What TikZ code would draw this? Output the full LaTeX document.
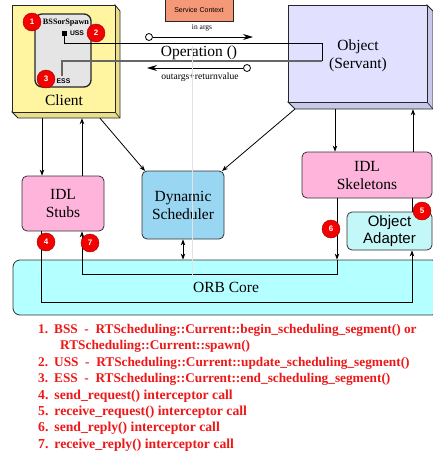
\documentclass[tikz,border=0pt]{standalone}
\usepackage{fontspec}
\setmainfont{Liberation Serif}
\newfontfamily\sansf{Liberation Sans}
\usetikzlibrary{arrows.meta}
\definecolor{clientF}{RGB}{255,245,160}
\definecolor{clientS}{RGB}{232,222,140}
\definecolor{objF}{RGB}{225,225,255}
\definecolor{objS}{RGB}{200,200,232}
\definecolor{pinkF}{RGB}{255,180,220}
\definecolor{schedF}{RGB}{153,214,242}
\definecolor{oaF}{RGB}{196,247,247}
\definecolor{orbF}{RGB}{180,255,255}
\definecolor{svcF}{RGB}{245,152,120}
\definecolor{segF}{RGB}{229,229,229}
\definecolor{legred}{RGB}{238,24,24}
\definecolor{numred}{RGB}{245,0,0}
\tikzset{
  box/.style={draw=black!80, line width=0.8pt, rounded corners=5pt, inner sep=0pt, align=center,
    font=\fontsize{15.5}{18}\selectfont},
  num/.style={circle, fill=numred, draw=red!60!black, line width=0.4pt, minimum size=18pt, inner sep=0pt,
    text=white, font=\sansf\bfseries\fontsize{8}{8}\selectfont},
  arr/.style={line width=0.8pt, -{Stealth[length=6pt,width=4.5pt]}},
  bigarr/.style={line width=0.9pt, -{Stealth[length=10pt,width=6pt]}},
  ln/.style={line width=0.8pt},
  opencirc/.style={circle, draw=black, fill=white, line width=0.8pt, minimum size=7pt, inner sep=0pt},
  legend/.style={anchor=west, inner sep=0pt, text=legred, font=\bfseries\fontsize{13.3}{15}\selectfont},
  legendb/.style={legend, font=\bfseries\fontsize{13.7}{15}\selectfont},
  plain/.style={inner sep=0pt, align=center},
}
\newcommand{\numgap}{\hspace{6pt}}
\begin{document}
\begin{tikzpicture}[x=1pt, y=-1pt]
\useasboundingbox (0,0) rectangle (433,456);
\fill[white] (0,0) rectangle (433,456);

% ---------- Client (3D box) ----------
\node[draw=none, minimum width=108pt, minimum height=113pt, inner sep=0pt] (client) at (66,61.5) {};
\filldraw[fill=clientS, draw=black!85, line width=0.8pt]
  (115,5) -- (120,11) -- (120,118) -- (18,118) -- (12,112) -- (115,112) -- cycle;
\draw[black!85, line width=0.6pt] (115,112) -- (120,118);
\node[draw=black!85, fill=clientF, line width=0.8pt, minimum width=103pt, minimum height=107pt, inner sep=0pt] (clientF) at (63.5,58.5) {};
\node[plain, font=\fontsize{15.5}{18}\selectfont] (clientlbl) at (64,100) {Client};

% inner segment box
\node[draw=black!85, fill=segF, line width=1.3pt, rounded corners=7pt, minimum width=56pt, minimum height=73pt, inner sep=0pt] (seg) at (63,50.5) {};
\node[plain, font=\bfseries\fontsize{8.2}{9}\selectfont] (bss) at (66,23) {BSSorSpawn};
\node[plain, font=\sansf\bfseries\fontsize{6.8}{8}\selectfont] (uss) at (77,33.5) {USS};
\node[plain, font=\sansf\bfseries\fontsize{6.8}{8}\selectfont] (ess) at (63.5,81) {ESS};
\node[fill=black, minimum size=5pt, inner sep=0pt] (sq) at (64,33) {};

% ---------- Object (3D box) ----------
\node[draw=none, minimum width=145pt, minimum height=104pt, inner sep=0pt] (object) at (360.5,57) {};
\filldraw[fill=objS, draw=black!85, line width=0.8pt]
  (427,5) -- (433,11) -- (433,109) -- (295,109) -- (288,102) -- (427,102) -- cycle;
\draw[black!85, line width=0.6pt] (427,102) -- (433,109);
\node[draw=black!85, fill=objF, line width=0.8pt, minimum width=139pt, minimum height=97pt, inner sep=0pt] (objF) at (357.5,53.5) {};
\node[plain, font=\fontsize{15.5}{18}\selectfont] (objlbl) at (358,56) {Object\\(Servant)};

% ---------- Service context ----------
\node[draw=black!85, fill=svcF, line width=0.8pt, minimum width=68pt, minimum height=23pt, inner sep=0pt,
  font=\sansf\fontsize{7}{8}\selectfont] (svc) at (199,9.5) {Service Context};
\node[plain, font=\fontsize{7.5}{9}\selectfont] (inargs) at (202,28) {in args};
\node[plain, font=\fontsize{9.6}{11}\selectfont] (outargs) at (200,77.5) {outargs+returnvalue};

% ---------- Middle boxes ----------
\node[box, fill=pinkF, minimum width=82pt, minimum height=55pt] (stubs) at (63,203.5) {IDL\\Stubs};
\node[box, fill=schedF, minimum width=82pt, minimum height=68pt] (sched) at (183,205) {Dynamic\\Scheduler};
\node[box, fill=pinkF, minimum width=130pt, minimum height=46pt] (skel) at (367,175) {IDL\\Skeletons};
\node[box, fill=oaF, minimum width=85pt, minimum height=38pt, font=\sansf\fontsize{15}{17}\selectfont] (oa) at (389.5,231) {Object\\Adapter};
\node[box, fill=orbF, rounded corners=7pt, minimum width=426pt, minimum height=55pt] (orb) at (226,287.5) {ORB Core};

% ---------- helper coordinates ----------
\coordinate (x41) at (41,0);
\coordinate (x42) at (42,0);
\coordinate (x82) at (82,0);
\coordinate (x100) at (100,0);
\coordinate (x183) at (183,0);
\coordinate (x335) at (335,0);
\coordinate (x337) at (337,0);
\coordinate (x412) at (412,0);
\coordinate (x413) at (413,0);
\coordinate (y274) at (0,274);
\coordinate (y302) at (0,302);
\coordinate (u1) at (322,43);
\coordinate (u2) at (322,61);
\coordinate (essend) at (62,76);
\coordinate (schTL) at (145,171);
\coordinate (schTR) at (222,171);
\coordinate (objBL) at (295,109);
\coordinate (iaend) at (253,37);
\coordinate (oaend) at (147,68);

% ---------- Operation loop ----------
\draw[ln, black] (sq.south) |- (u1) -- (u2);
\draw[line width=1.4pt, black!60] (u2) -| (essend);
\node[plain, font=\fontsize{15.5}{18}\selectfont] (op) at (199,53) {Operation ()};
\node[opencirc] (oc1) at (149,37) {};
\node[opencirc] (oc2) at (247,68) {};
\draw[bigarr] (oc1.east) -- (iaend);
\draw[bigarr] (oc2.west) -- (oaend);

% ---------- connectors ----------
\draw[arr] (client.south -| x42) -- (stubs.north -| x42);
\draw[arr] (stubs.north -| x82) -- (client.south -| x82);
\draw[arr] (client.south -| x100) -- (schTL);
\draw[arr] (objBL) -- (schTR);
\draw[arr] (object.south -| x335) -- (skel.north -| x335);
\draw[arr] (skel.north -| x413) -- (object.south -| x413);
\draw[line width=0.8pt, {Stealth[length=6pt,width=4.5pt]}-{Stealth[length=6pt,width=4.5pt]}] (sched.south -| x183) -- (orb.north -| x183);
\draw[arr] (stubs.south -| x41) -- (x41 |- y302) -- (x412 |- y302) -- (oa.south -| x412);
\draw[arr] (skel.south -| x337) -- (orb.north -| x337);
\draw[arr] (orb.north -| x337) -- (x337 |- y274) -- (x82 |- y274) -- (stubs.south -| x82);
\draw[ln] (skel.south -| x412) -- (oa.north -| x412);

% faint vertical trace
\draw[black!11, line width=0.8pt] (192,46) -- (192,277);

% ---------- numbered markers ----------
\node[num] (n1) at (32,22) {1};
\node[num] (n2) at (96,33) {2};
\node[num] (n3) at (46,79) {3};
\node[num] (n4) at (46,242) {4};
\node[num] (n5) at (422,211) {5};
\node[num] (n6) at (331,229) {6};
\node[num] (n7) at (90,243) {7};

% ---------- legend ----------
\node[legend] (l1) at (38,330) {1.\numgap BSS\ \ -\ \ RTScheduling::Current::begin\_scheduling\_segment()\ or};
\node[legend] (l1b) at (60,346.5) {RTScheduling::Current::spawn()};
\node[legend] (l2) at (38,363) {2.\numgap USS\ \ -\ \ RTScheduling::Current::update\_scheduling\_segment()};
\node[legend] (l3) at (38,379.5) {3.\numgap ESS\ \ -\ \ RTScheduling::Current::end\_scheduling\_segment()};
\node[legendb] (l4) at (38,396) {4.\numgap send\_request()\ interceptor\ call};
\node[legendb] (l5) at (38,412) {5.\numgap receive\_request()\ interceptor\ call};
\node[legendb] (l6) at (38,428.5) {6.\numgap send\_reply()\ interceptor\ call};
\node[legendb] (l7) at (38,445) {7.\numgap receive\_reply()\ interceptor\ call};
\end{tikzpicture}
\end{document}
